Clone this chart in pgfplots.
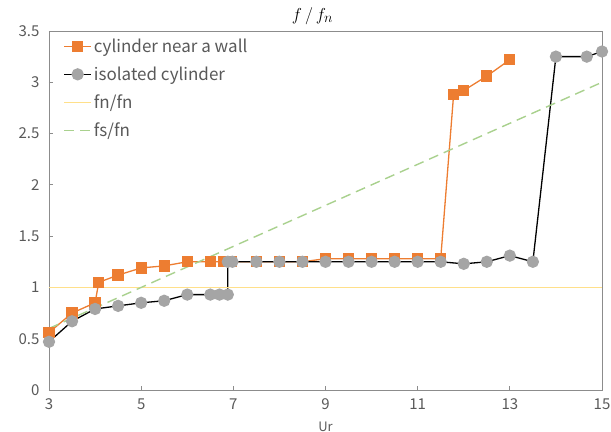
\documentclass[border=0pt]{standalone}
\usepackage{pgfplots}
\pgfplotsset{compat=1.18}
\usepackage{fontspec}
\setmainfont{Noto Sans CJK JP}
\definecolor{xorange}{HTML}{ED7D31}
\definecolor{xgrey}{HTML}{A5A5A5}
\definecolor{xyellow}{HTML}{FFE08A}
\definecolor{xgreen}{HTML}{A9D18E}
\definecolor{txt}{HTML}{595959}
\definecolor{axc}{HTML}{8C8C8C}
\begin{document}
\begin{tikzpicture}
\begin{axis}[
  scale only axis, width=553pt, height=359pt,
  xmin=3, xmax=15, ymin=0, ymax=3.5,
  xtick={3,5,7,9,11,13,15},
  ytick={0,0.5,1,1.5,2,2.5,3,3.5},
  tick pos=left,
  major tick length=4pt,
  tick style={axc, line width=0.8pt},
  axis line style={axc, line width=0.8pt},
  /pgf/number format/assume math mode=true,
  ticklabel style={font=\fontsize{15}{15}\selectfont, text=txt},
  yticklabel style={xshift=-6pt},
  xticklabel style={yshift=-5pt},
  xlabel={Ur},
  xlabel style={at={(axis description cs:0.5,0)}, anchor=south, yshift=-42pt, inner sep=0.5pt, font=\fontsize{13}{13}\selectfont, text=txt},
  title={$f\,/\,f_n$},
  title style={at={(axis description cs:0.5,1)}, anchor=south, yshift=-3pt, xshift=-13pt, font=\fontsize{19}{19}\selectfont},
  legend style={at={(axis description cs:0.022,0.99)}, anchor=north west, draw=none, fill=none,
    font=\fontsize{17}{17}\selectfont, text=txt, row sep=9pt, inner sep=2pt, /tikz/every even column/.append style={column sep=0pt}},
  legend cell align=left,
  legend image code/.code={\draw[#1] (0pt,0pt) -- (27pt,0pt); \draw[#1, only marks] plot coordinates {(13.5pt,0pt)};},
]
\addplot[xorange, line width=1.3pt, mark=square*, mark size=5pt, mark options={solid, fill=xorange, draw=xorange}] coordinates {
(3,0.56) (3.5,0.75) (4,0.85) (4.08,1.05) (4.5,1.12) (5,1.19) (5.5,1.21) (6,1.25) (6.5,1.25) (6.8,1.25) (6.95,1.25) (7.5,1.25) (8,1.25) (8.5,1.25) (9,1.28) (9.5,1.28) (10,1.28) (10.5,1.28) (11,1.28) (11.5,1.28) (11.78,2.88) (12,2.92) (12.5,3.06) (13,3.22)
};
\addlegendentry{cylinder near a wall}
\addplot[black, line width=1.3pt, mark=*, mark size=5.5pt, mark options={solid, fill=xgrey, draw=xgrey}] coordinates {
(3,0.47) (3.5,0.67) (4,0.79) (4.5,0.82) (5,0.85) (5.5,0.87) (6,0.93) (6.5,0.93) (6.7,0.93) (6.88,0.93) (6.88,1.25) (6.98,1.25) (7.5,1.25) (8,1.25) (8.5,1.25) (9,1.25) (9.5,1.25) (10,1.25) (10.5,1.25) (11,1.25) (11.5,1.25) (12,1.23) (12.5,1.25) (13,1.31) (13.5,1.25) (14,3.25) (14.67,3.25) (15,3.3)
};
\addlegendentry{isolated cylinder}
\addplot[xyellow, line width=1.6pt, no marks] coordinates {(3,1) (15,1)};
\addlegendentry{fn/fn}
\addplot[xgreen, line width=1.4pt, dashed, dash pattern=on 10pt off 6pt, no marks] coordinates {(3,0.6) (15,3.0)};
\addlegendentry{fs/fn}
\coordinate (ll) at (rel axis cs:0,0);
\coordinate (ur) at (rel axis cs:1,1);
\end{axis}
\pgfresetboundingbox
\path ([shift={(-49pt,-42pt)}]ll) rectangle ([shift={(9pt,31pt)}]ur);
\end{tikzpicture}
\end{document}
